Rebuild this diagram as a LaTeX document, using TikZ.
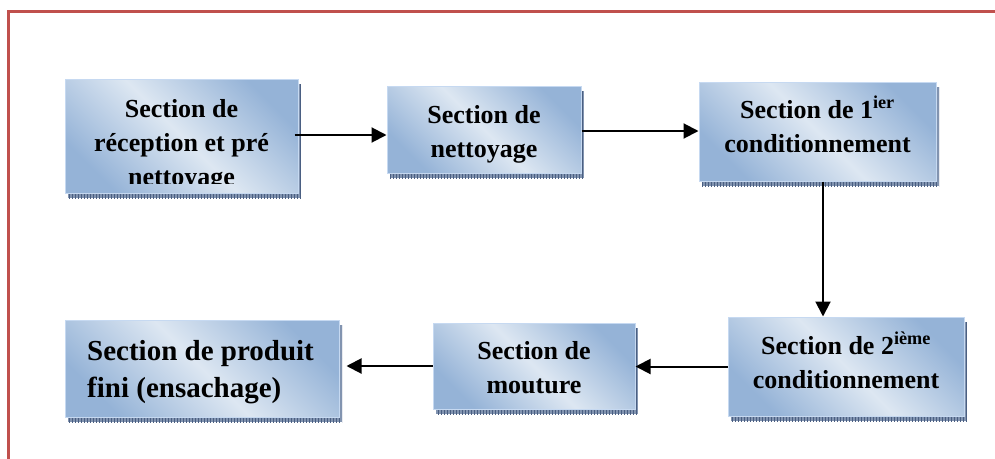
\documentclass[tikz,border=0pt]{standalone}
\usepackage{fontspec}
\setmainfont{Liberation Serif}
\usetikzlibrary{arrows.meta,calc,patterns}
\definecolor{framered}{HTML}{C0504D}
\definecolor{gdark}{HTML}{95B3D7}
\definecolor{glight}{HTML}{DDE7F2}
\definecolor{edgeblue}{HTML}{C6D9F1}
\definecolor{shadowfill}{HTML}{8294B0}
\definecolor{shadowline}{HTML}{4A5F82}
\tikzset{
  sectionbox/.style={draw=edgeblue, line width=1pt, inner sep=0pt,
    top color=gdark, bottom color=gdark, middle color=glight, shading angle=-45},
  boxshadow/.style={fill=shadowfill, postaction={pattern=vertical lines, pattern color=shadowline}},
  label26/.style={inner sep=0pt, anchor=base, align=center,
    font=\fontsize{26pt}{34pt}\selectfont\bfseries},
  label29/.style={inner sep=0pt, anchor=base west, align=left,
    font=\fontsize{29pt}{37pt}\selectfont\bfseries},
  flow/.style={line width=2pt, -{Triangle[length=15pt,width=15pt]}},
}
\newcommand{\sectionbox}[5]{%
  % #1 name, #2 centre x, #3 centre y, #4 width, #5 height
  \fill[boxshadow] (#2-#4/2+3,#3-#5/2+5) rectangle (#2+#4/2+3,#3+#5/2+5);
  \node[sectionbox, minimum width=#4pt, minimum height=#5pt] (#1) at (#2,#3) {};
}
\begin{document}
\begin{tikzpicture}[x=1pt,y=-1pt]
\useasboundingbox (0,0) rectangle (995,458);
\fill[white] (0,0) rectangle (995,458);
% outer frame, running past the right and bottom edges
\draw[framered, line width=3pt] (8.5,11.5) rectangle (1010,475);

% boxes
\sectionbox{b1}{181.5}{136}{233}{114}
\sectionbox{b2}{484}{129.5}{194}{87}
\sectionbox{b3}{817.5}{131.5}{237}{99}
\sectionbox{b4}{846}{366.5}{236}{99}
\sectionbox{b5}{534}{366}{202}{86}
\sectionbox{b6}{202}{368.5}{274}{97}

% labels (placed by the baseline of their last line)
\begin{scope}
  \clip (65,79) rectangle (298,183);
  \node[label26] (t1) at (181.5,185) {Section de\\réception et pré\\nettoyage};
\end{scope}
\node[label26] (t2) at (484,157) {Section de\\nettoyage};
\node[label26] (t3) at (817.5,152) {Section de 1\textsuperscript{ier}\\conditionnement};
\node[label26] (t4) at (846,388) {Section de 2\textsuperscript{ième}\\conditionnement};
\node[label26] (t5) at (534,393) {Section de\\mouture};
\node[label29] (t6) at (87,397) {Section de produit\\fini (ensachage)};

% connectors
\draw[flow] ([xshift=-4pt]b1.east |- 0,135) coordinate (a1) -- (a1 -| b2.west);
\draw[flow] (b2.east |- 0,131) coordinate (a2) -- (a2 -| b3.west);
\draw[flow] (823,0 |- b3.south) coordinate (a3) -- (a3 |- b4.north);
\draw[flow] (b4.west) -- (b4.west -| b5.east);
\draw[flow, shorten >=7pt] (b5.west) -- (b5.west -| b6.east);
\end{tikzpicture}
\end{document}
